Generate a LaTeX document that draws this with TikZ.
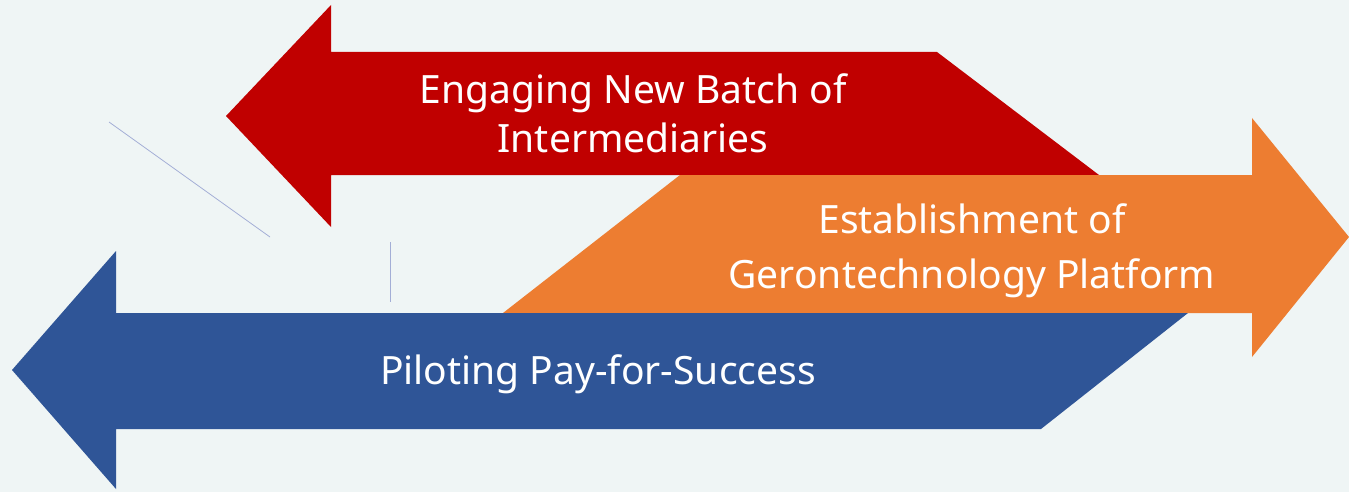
\documentclass[tikz,border=0pt]{standalone}
\usepackage{fontspec}
\setmainfont{Noto Sans}
\usepackage{tikz}
\usetikzlibrary{calc}
\definecolor{bgpaper}{HTML}{EFF5F5}
\definecolor{arrowred}{HTML}{C00000}
\definecolor{arroworange}{HTML}{ED7D31}
\definecolor{arrowblue}{HTML}{2F5597}
\definecolor{faintline}{HTML}{A3AED6}
\tikzset{
    label text/.style={text=white, align=center, inner sep=0pt,
        font=\fontsize{39}{49}\selectfont},
}

\begin{document}
\begin{tikzpicture}[x=1pt, y=-1pt]
                \useasboundingbox (0,0) rectangle (1349,492);
                \fill[bgpaper] (0,0) rectangle (1349,492);
                % red arrow (points left)
                \coordinate (R1) at (226,116);
                \coordinate (R2) at (331,5);
                \coordinate (R3) at (331,227);
                \coordinate (R4) at (937,52);
                \coordinate (R5) at (1099,175);
                % orange arrow (points right)
                \coordinate (O1) at (503,313);
                \coordinate (O2) at (680,175);
                \coordinate (O3) at (1252,118);
                \coordinate (O4) at (1349,237);
                \coordinate (O5) at (1252,357);
                % blue arrow (points left)
                \coordinate (B1) at (12,370);
                \coordinate (B2) at (116,251);
                \coordinate (B3) at (116,489);
                \coordinate (B4) at (1188,313);
                \coordinate (B5) at (1041,429);
                % stray thin lines
                \coordinate (L1) at (109,122);
                \coordinate (L2) at (270,237);
                \coordinate (L3) at (390,242);
                \coordinate (L4) at (390,302);
                \draw[faintline, line width=0.8pt] (L1) -- (L2);
                \draw[faintline, line width=0.8pt] (L3) -- (L4);
                \fill[arrowred] (R1) -- (R2) -- (331,52) -- (R4) -- (R5)
                    -- (331,175) -- (R3) -- cycle;
                \fill[arroworange] (O1) -- (O2) -- (1252,175) -- (O3) -- (O4)
                    -- (O5) -- (1252,313) -- cycle;
                \fill[arrowblue] (B1) -- (B2) -- (116,313) -- (B4) -- (B5)
                    -- (116,429) -- (B3) -- cycle;
                % \draw[dashed] (R2)--(R3);
                \node[label text] (engaging) at (633,113) {Engaging New Batch of\\Intermediaries};
                \node[label text, font=\fontsize{39}{55}\selectfont] (establish) at (972,251) {Establishment of\\Gerontechnology Platform};
                \node[label text, anchor=base] (piloting) at (598,384) {Piloting Pay-for-Success};
            \end{tikzpicture}
\end{document}
